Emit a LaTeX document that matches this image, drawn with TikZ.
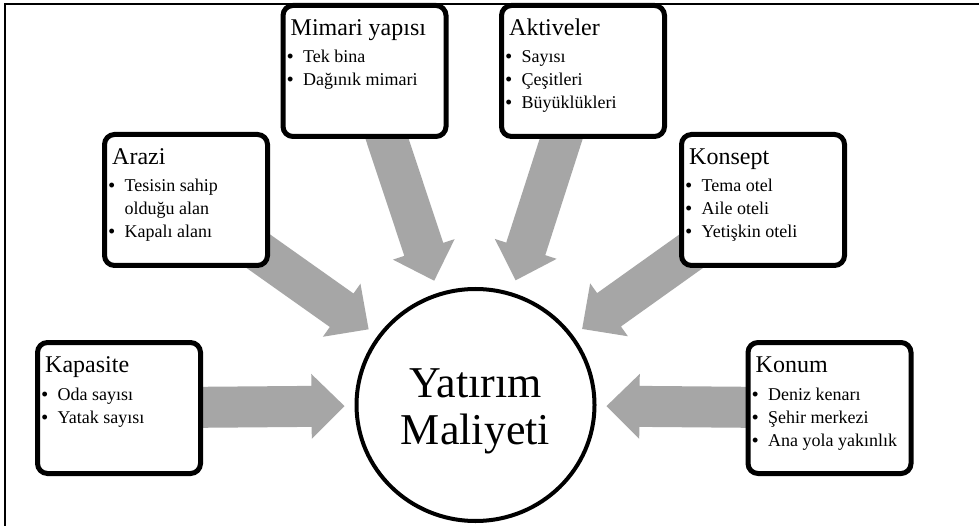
\documentclass[tikz,border=0pt]{standalone}
\usepackage{fontspec}
\setmainfont{Liberation Serif}
\newfontfamily\bulletfont{Liberation Sans}
\usetikzlibrary{calc,shapes.geometric}

\definecolor{arrowgray}{RGB}{166,166,166}

\pgfdeclarelayer{background}
\pgfsetlayers{background,main}

\tikzset{
  x=1pt, y=-1pt,
  infobox/.style={draw=black, line width=5pt, rounded corners=10pt, fill=white,
    minimum width=163pt, minimum height=131pt, inner sep=0pt, outer sep=0pt},
  boxtitle/.style={font=\fontsize{24}{28}\selectfont, inner sep=0pt, anchor=base west},
  boxitems/.style={font=\fontsize{18}{23}\selectfont, inner sep=0pt, anchor=base west},
  hub/.style={ellipse, draw=black, line width=4pt, fill=white,
    minimum width=238pt, minimum height=232pt, inner sep=0pt},
  hubtext/.style={align=center, inner sep=0pt, font=\fontsize{44}{47}\selectfont},
  frameline/.style={draw=black, line width=2pt},
  arrowbody/.style={fill=arrowgray},
}

% bullet line and hanging continuation line
\newcommand\bitem[1]{\makebox[16pt][l]{\bulletfont •}#1}
\newcommand\bcont[1]{\hspace*{16pt}#1}

% wide block arrow from #1 towards the tip #2
\newcommand\blockarrow[2]{%
  \coordinate (ba-base) at ($(#2)!33pt!(#1)$);
  \fill[arrowbody]
    ($(#1)!20.5pt!90:(#2)$) -- ($(ba-base)!20.5pt!90:(#2)$) --
    ($(ba-base)!32.5pt!90:(#2)$) -- (#2) --
    ($(ba-base)!32.5pt!-90:(#2)$) -- ($(ba-base)!20.5pt!-90:(#2)$) --
    ($(#1)!20.5pt!-90:(#2)$) -- cycle;}

% rounded box with a heading and a bullet list (first line on the anchor)
\newcommand\infobox[4]{%
  \node[infobox] (#1) at (#2) {};
  \node[boxtitle] (#1-title) at ([shift={(7.5pt,-30pt)}]#1.north west) {#3};
  \node[boxitems] (#1-items) at ([shift={(4pt,-57.5pt)}]#1.north west)
    {\begin{tabular}[t]{@{}l@{}}#4\end{tabular}};}

\begin{document}
\begin{tikzpicture}
  \useasboundingbox (0,0) rectangle (979,526);

  % outer frame
  \draw[frameline] (5,530) -- (5,3.7) -- (985,3.7);

  % central circle
  \node[hub] (hub) at (475.5,405) {};
  \node[hubtext] (hub-text) at (475.5,411) {Yatırım\\Maliyeti};

  % surrounding boxes
  \infobox{kapasite}{119,408}{Kapasite}{\bitem{Oda sayısı}\\\bitem{Yatak sayısı}}
  \infobox{arazi}{186,200}{Arazi}{\bitem{Tesisin sahip}\\\bcont{olduğu alan}\\\bitem{Kapalı alanı}}
  \infobox{mimari}{364.5,71}{Mimari yapısı}{\bitem{Tek bina}\\\bitem{Dağınık mimari}}
  \infobox{aktiveler}{583,71}{Aktiveler}{\bitem{Sayısı}\\\bitem{Çeşitleri}\\\bitem{Büyüklükleri}}
  \infobox{konsept}{763,200}{Konsept}{\bitem{Tema otel}\\\bitem{Aile oteli}\\\bitem{Yetişkin oteli}}
  \infobox{konum}{829.5,408}{Konum}{\bitem{Deniz kenarı}\\\bitem{Şehir merkezi}\\\bitem{Ana yola yakınlık}}

  % arrow tips just outside the circle
  \foreach \b in {kapasite,arazi,mimari,aktiveler,konsept,konum}
    \coordinate (\b-tip) at ($(hub.center)!131pt!(\b)$);

  % gray block arrows behind the boxes and the circle
  \begin{pgfonlayer}{background}
    \fill[white] (0,0) rectangle (979,526);
    \foreach \b in {kapasite,arazi,mimari,aktiveler,konsept,konum}
      {\blockarrow{\b}{\b-tip}}
  \end{pgfonlayer}
\end{tikzpicture}
\end{document}
